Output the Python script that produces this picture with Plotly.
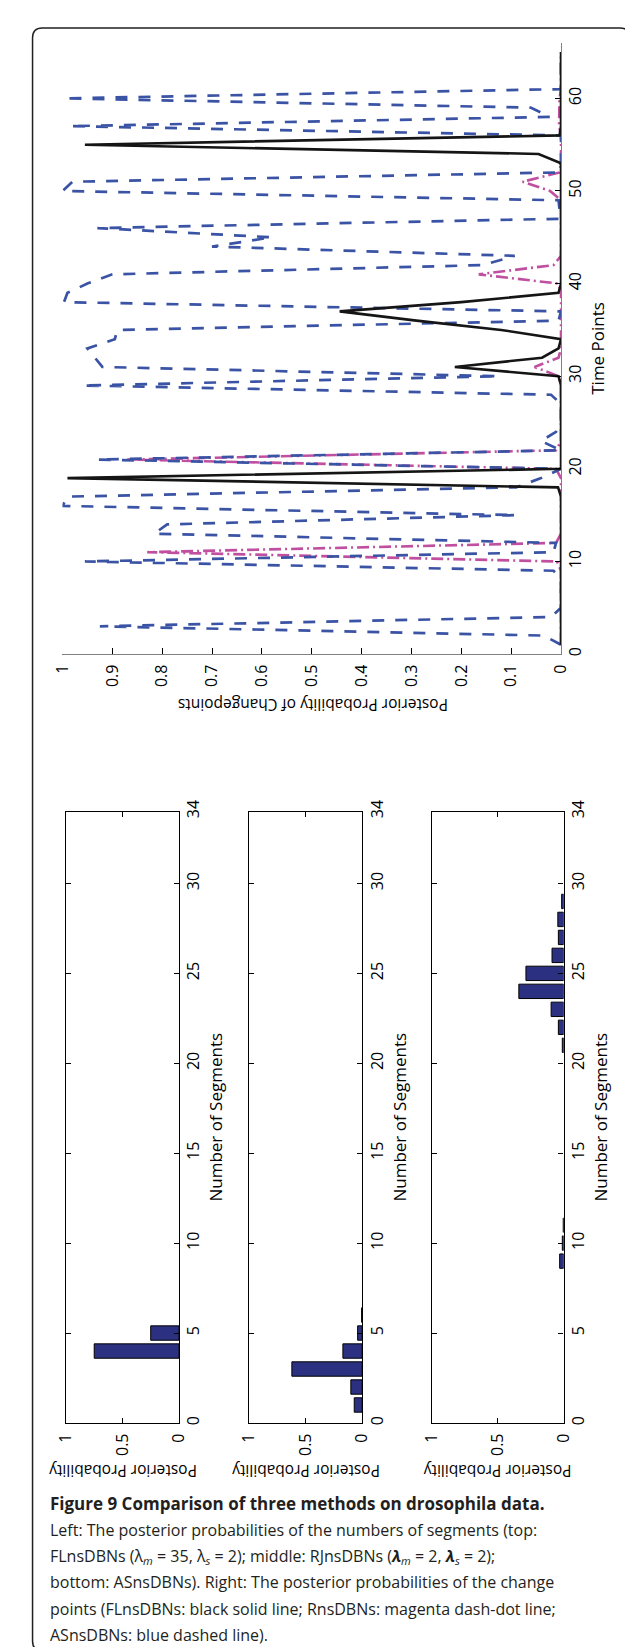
import plotly.graph_objects as go

# ---------------- data ----------------
time_points = list(range(1, 66))

# FLnsDBNs (black solid)
fl_probs = [0, 0, 0, 0, 0, 0, 0, 0, 0, 0,
            0, 0, 0, 0, 0, 0, 0, 0.006, 0.99, 0,
            0, 0, 0, 0, 0, 0, 0, 0, 0, 0.005,
            0.213, 0.038, 0.005, 0, 0.12, 0.29, 0.444, 0.2, 0.005, 0,
            0, 0, 0, 0, 0, 0, 0, 0, 0, 0,
            0, 0, 0, 0.045, 0.955, 0.003, 0, 0, 0, 0,
            0, 0, 0, 0, 0]

# RnsDBNs (magenta dash-dot)
rns_probs = [0, 0, 0, 0, 0, 0, 0, 0, 0, 0.008,
             0.83, 0.01, 0, 0, 0, 0, 0, 0, 0, 0.01,
             0.87, 0.01, 0, 0, 0, 0, 0, 0, 0, 0.005,
             0.053, 0.005, 0, 0, 0, 0, 0, 0, 0, 0.005,
             0.165, 0.015, 0, 0, 0, 0, 0, 0, 0, 0.022,
             0.077, 0.003, 0, 0, 0, 0, 0.004, 0.004, 0.004, 0.003,
             0, 0, 0, 0, 0]

# ASnsDBNs (blue dashed)
as_probs = [0, 0.035, 0.925, 0.02, 0, 0, 0, 0, 0.015, 0.955,
            0.015, 0.01, 0.816, 0.79, 0.09, 1.0, 0.99, 0.09, 0.04, 0.0,
            0.93, 0.0, 0.04, 0.01, 0, 0, 0, 0.02, 0.96, 0.125,
            0.92, 0.935, 0.95, 0.895, 0.89, 0.005, 0.0, 0.997, 0.99, 0.95,
            0.90, 0.156, 0.093, 0.70, 0.58, 0.93, 0.003, 0.003, 0.005, 1.0,
            0.98, 0.005, 0, 0, 0, 0, 0.985, 0.022, 0.061, 0.997,
            0, 0, 0, 0, 0]

time_ticks = [0, 10, 20, 30, 40, 50, 60]
prob_ticks = [0, 0.1, 0.2, 0.3, 0.4, 0.5, 0.6, 0.7, 0.8, 0.9, 1]
prob_ticklabels = ["0", "0.1", "0.2", "0.3", "0.4", "0.5", "0.6", "0.7", "0.8", "0.9", "1"]

# histograms of the number of segments
fl_segments = [4, 5]
fl_seg_probs = [0.75, 0.25]

rj_segments = [1, 2, 3, 4, 5, 6]
rj_seg_probs = [0.07, 0.10, 0.62, 0.17, 0.04, 0.005]

as_segments = [9, 10, 11, 21, 22, 23, 24, 25, 26, 27, 28, 29]
as_seg_probs = [0.03, 0.01, 0.003, 0.01, 0.04, 0.095, 0.34, 0.286, 0.088, 0.04, 0.044, 0.015]

seg_ticks = [0, 5, 10, 15, 20, 25, 30, 34]
hist_prob_ticks = [0, 0.5, 1]
hist_prob_ticklabels = ["0", "0.5", "1"]

caption_lines = [
    "<b>Figure 9 Comparison of three methods on drosophila data.</b>",
    "Left: The posterior probabilities of the numbers of segments (top:",
    "FLnsDBNs (λ<sub><i>m</i></sub> = 35, λ<sub><i>s</i></sub> = 2); middle: RJnsDBNs (<b><i>λ</i></b><sub><i>m</i></sub> = 2, <b><i>λ</i></b><sub><i>s</i></sub> = 2);",
    "bottom: ASnsDBNs). Right: The posterior probabilities of the change",
    "points (FLnsDBNs: black solid line; RnsDBNs: magenta dash-dot line;",
    "ASnsDBNs: blue dashed line).",
]

# ---------------- figure ----------------
W, H = 633, 1647
FONT = "Open Sans"
BLUE = "#3A53A4"
MAGENTA = "#C04FA0"
BAR = "#2B3180"


def px(x):
    return x / W


def py(y):
    return 1 - y / H


fig = go.Figure()

fig.add_trace(go.Scatter(x=rns_probs, y=time_points, mode="lines",
                         line=dict(color=MAGENTA, width=2.6, dash="12px,4px,2px,4px"),
                         xaxis="x", yaxis="y", showlegend=False))
fig.add_trace(go.Scatter(x=as_probs, y=time_points, mode="lines",
                         line=dict(color=BLUE, width=2.7, dash="12px,11px"),
                         xaxis="x", yaxis="y", showlegend=False))
fig.add_trace(go.Scatter(x=fl_probs, y=time_points, mode="lines",
                         line=dict(color="#151515", width=2.6),
                         xaxis="x", yaxis="y", showlegend=False))

for i, (segs, probs) in enumerate([(fl_segments, fl_seg_probs),
                                   (rj_segments, rj_seg_probs),
                                   (as_segments, as_seg_probs)]):
    n = i + 2
    fig.add_trace(go.Bar(x=probs, y=segs, orientation="h", width=0.8,
                         marker=dict(color=BAR, line=dict(color="#000000", width=1)),
                         xaxis="x%d" % n, yaxis="y%d" % n, showlegend=False))

tickfont = dict(family=FONT, size=16, color="#000000")

layout = dict(
    width=W, height=H, autosize=False,
    margin=dict(l=0, r=0, t=0, b=0),
    paper_bgcolor="white", plot_bgcolor="white",
    bargap=0.2,
    xaxis=dict(domain=[px(44), px(560.5)], range=[1, 0], anchor="y",
               tickmode="array", tickvals=prob_ticks, ticktext=prob_ticklabels,
               tickangle=-90, ticks="inside", ticklen=6, tickcolor="#000000",
               showline=True, linecolor="#808080", linewidth=1.2,
               showgrid=False, zeroline=False, tickfont=tickfont,
               ticklabelstandoff=3),
    yaxis=dict(domain=[py(639.5), py(23)], range=[0, 66], anchor="x",
               side="right", tickmode="array", tickvals=time_ticks,
               tickangle=-90, ticks="inside", ticklen=6, tickcolor="#000000",
               showline=True, linecolor="#808080", linewidth=1.2,
               showgrid=False, zeroline=False, tickfont=tickfont,
               title=dict(text="Time Points", font=dict(family=FONT, size=17, color="#000000"),
                          standoff=5)),
)

hist_domains = [(47.6, 164.7), (237, 354.5), (426.7, 563.2)]
for i, (x0, x1) in enumerate(hist_domains):
    n = i + 2
    layout["xaxis%d" % n] = dict(
        domain=[px(x0), px(x1)], range=[1, 0], anchor="y%d" % n,
        tickmode="array", tickvals=hist_prob_ticks, ticktext=hist_prob_ticklabels,
        tickangle=-90, ticks="inside", ticklen=5, tickcolor="#000000",
        showline=True, linecolor="#000000", linewidth=1.3, mirror="ticks",
        showgrid=False, zeroline=False, tickfont=tickfont, ticklabelstandoff=3)
    layout["yaxis%d" % n] = dict(
        domain=[py(1415), py(798.3)], range=[0, 34], anchor="x%d" % n,
        side="right", tickmode="array", tickvals=seg_ticks,
        tickangle=-90, ticks="inside", ticklen=5, tickcolor="#000000",
        showline=True, linecolor="#000000", linewidth=1.3, mirror="ticks",
        showgrid=False, zeroline=False, tickfont=tickfont,
        title=dict(text="Number of Segments", font=dict(family=FONT, size=17, color="#000000"),
                   standoff=5))

fig.update_layout(**layout)

annotations = []
annotations.append(dict(text="Posterior Probability of Changepoints", textangle=180,
                        x=px(303), y=py(691), xref="paper", yref="paper",
                        showarrow=False, xanchor="center", yanchor="middle",
                        font=dict(family=FONT, size=15.5, color="#000000")))
for (x0, x1) in hist_domains:
    annotations.append(dict(text="Posterior Probability", textangle=180,
                            x=px((x0 + x1) / 2), y=py(1464), xref="paper", yref="paper",
                            showarrow=False, xanchor="center", yanchor="middle",
                            font=dict(family=FONT, size=15.5, color="#000000")))

cap_y = [1496.7, 1522.7, 1549.3, 1575.3, 1602.7, 1629.3]
for j, (line, yy) in enumerate(zip(caption_lines, cap_y)):
    annotations.append(dict(text=line, x=px(29), y=py(yy), xref="paper", yref="paper",
                            showarrow=False, xanchor="left", yanchor="middle",
                            font=dict(family=FONT, size=17 if j == 0 else 16, color="#231F20")))
fig.update_layout(annotations=annotations)

# rounded border box
L, T, R, B = 13, 8, 631.5, 1645
r = 10
path = ("M {a},{b} L {c},{b} Q {R},{b} {R},{d} L {R},{e} Q {R},{f} {c},{f} "
        "L {a},{f} Q {L},{f} {L},{e} L {L},{d} Q {L},{b} {a},{b} Z").format(
    a=px(L + r), b=py(T), c=px(R - r), R=px(R), d=py(T + r), e=py(B - r), f=py(B), L=px(L))
fig.add_shape(type="path", path=path, xref="paper", yref="paper",
              line=dict(color="#231F20", width=1.5), fillcolor="rgba(0,0,0,0)")

fig.write_html("out.html")
